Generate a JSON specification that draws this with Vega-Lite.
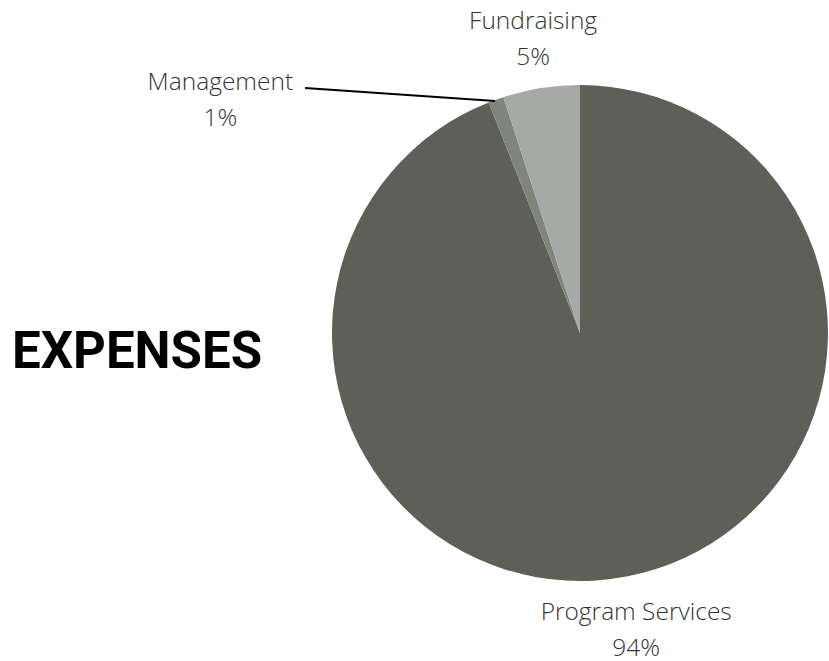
{
  "$schema": "https://vega.github.io/schema/vega-lite/v6.json",
  "autosize": {"type": "pad"},
  "padding": {"left": 0, "top": 8, "right": 1, "bottom": 0},
  "background": "white",
  "bounds": "flush",
  "spacing": 58,
  "config": {"view": {"stroke": null}},
  "datasets": {
    "title": [{"text": "EXPENSES"}],
    "expenses": [
      {"category": "Program Services", "value": 94, "rank": 1},
      {"category": "Management", "value": 1, "rank": 2},
      {"category": "Fundraising", "value": 5, "rank": 3}
    ]
  },
  "hconcat": [
    {
      "width": 274,
      "height": 536,
      "data": {"name": "title"},
      "mark": {
        "type": "text",
        "font": "Roboto",
        "fontSize": 51,
        "fontWeight": "bold",
        "color": "#000000",
        "align": "center",
        "baseline": "middle"
      },
      "encoding": {"text": {"field": "text"}}
    },
    {
      "width": 496,
      "height": 496,
      "data": {"name": "expenses"},
      "transform": [
        {"calculate": "datum.category + '\\n' + datum.value + '%'", "as": "label"}
      ],
      "layer": [
        {
          "mark": {"type": "arc", "stroke": null},
          "encoding": {
            "theta": {"field": "value", "type": "quantitative", "stack": true},
            "order": {"field": "rank", "type": "quantitative"},
            "color": {
              "field": "category",
              "type": "nominal",
              "scale": {
                "domain": ["Program Services", "Management", "Fundraising"],
                "range": ["#5e6058", "#7f847c", "#a5aaa6"]
              },
              "legend": null
            }
          }
        },
        {
          "mark": {
            "type": "text",
            "radius": 300,
            "dy": -15,
            "lineBreak": "\n",
            "lineHeight": 36,
            "font": "Open Sans",
            "fontSize": 24.5,
            "fontWeight": 300,
            "color": "#333333",
            "align": "center",
            "baseline": "middle"
          },
          "encoding": {
            "theta": {"field": "value", "type": "quantitative", "stack": true},
            "order": {"field": "rank", "type": "quantitative"},
            "text": {
              "condition": {"test": "datum.category == 'Management'", "value": ""},
              "field": "label"
            }
          }
        },
        {
          "mark": {
            "type": "text",
            "radius": 300,
            "dx": -258,
            "dy": 32,
            "lineBreak": "\n",
            "lineHeight": 36,
            "font": "Open Sans",
            "fontSize": 24.5,
            "fontWeight": 300,
            "color": "#333333",
            "align": "center",
            "baseline": "middle"
          },
          "encoding": {
            "theta": {"field": "value", "type": "quantitative", "stack": true},
            "order": {"field": "rank", "type": "quantitative"},
            "text": {
              "condition": {"test": "datum.category != 'Management'", "value": ""},
              "field": "label"
            }
          }
        },
        {
          "transform": [{"filter": "datum.category == 'Management'"}],
          "mark": {"type": "rule", "color": "#000000", "strokeWidth": 2},
          "encoding": {
            "x": {"value": -27},
            "y": {"value": 3},
            "x2": {"value": 163},
            "y2": {"value": 16}
          }
        }
      ]
    }
  ]
}
